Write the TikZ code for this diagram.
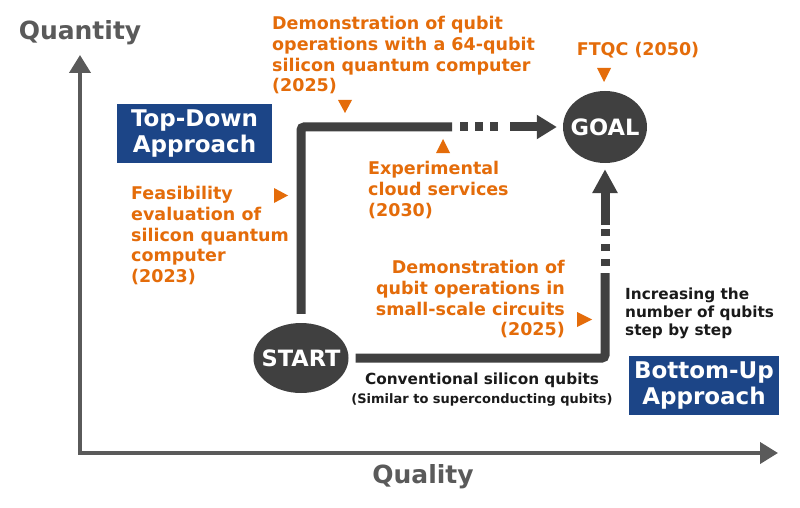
\documentclass[tikz,border=0pt]{standalone}
\usepackage{fontspec}
\setmainfont{DejaVu Sans}
\usetikzlibrary{arrows.meta,shapes.geometric}
\definecolor{orng}{HTML}{E46C0A}
\definecolor{dark}{HTML}{404040}
\definecolor{axisgray}{HTML}{5A5A5A}
\definecolor{boxblue}{HTML}{1C4587}
\definecolor{txtblack}{HTML}{1A1A1A}
\tikzset{
  axisline/.style={draw=axisgray, line width=4pt},
  road/.style={draw=dark, line width=9pt},
  dashroad/.style={road, dash pattern=on 7.5pt off 7.5pt},
  oval/.style={ellipse, fill=dark, inner sep=0pt},
  ovaltext/.style={text=white, inner sep=0pt, font=\bfseries\fontsize{22.5}{26}\selectfont},
  approach/.style={fill=boxblue, text=white, align=center, inner sep=0pt, minimum height=59pt, font=\bfseries\fontsize{23}{26.5}\selectfont},
  orangetxt/.style={text=orng, inner sep=0pt, font=\bfseries\fontsize{17.5}{20.6}\selectfont},
  blacktxt/.style={text=txtblack, inner sep=0pt, font=\bfseries\fontsize{15.3}{18}\selectfont},
  axislabel/.style={text=axisgray, inner sep=0pt, font=\bfseries\fontsize{25}{30}\selectfont},
  marker/.style={fill=orng}
}
\begin{document}
\begin{tikzpicture}[x=1pt,y=-1pt]
\useasboundingbox[fill=white] (0,0) rectangle (800,508);

% axes
\coordinate (origin) at (80,453);
\coordinate (ytip) at (80,55);
\coordinate (xtip) at (778,453);
\draw[axisline, {Triangle[length=18pt,width=21pt]}-{Triangle[length=18pt,width=21pt]}, line join=miter] (ytip) -- (origin) -- (xtip);
\node[axislabel] (quantity) at (80,33) {Quantity};
\node[axislabel] (quality) at (423,477) {Quality};

% start and goal
\node[oval, minimum width=95pt, minimum height=70pt] (start) at (301,358) {};
\node[ovaltext] (starttext) at (start.center) {START};
\node[oval, minimum width=84pt, minimum height=72pt] (goal) at (605,127) {};
\node[ovaltext] (goaltext) at (goal.center) {GOAL};

% top-down path
\coordinate (c1) at (301,127);
\coordinate (d1) at (452,127);
\coordinate (d1a) at (460,127);
\coordinate (d2a) at (503,127);
\coordinate (d2) at (510,127);
\draw[road, rounded corners=3pt, shorten <=9pt] (start.north) -- (c1) -- (d1);
\draw[dashroad] (d1a) -- (d2a);
\draw[road, -{Triangle[length=20pt,width=23pt]}, shorten >=6pt] (d2) -- (goal.west);

% bottom-up path
\coordinate (c2) at (605,358);
\coordinate (e1) at (605,273);
\coordinate (e1a) at (605,266);
\coordinate (e2a) at (605,228);
\coordinate (e2) at (605,225);
\draw[road, rounded corners=3pt, shorten <=7pt] (start.east) -- (c2) -- (e1);
\draw[dashroad] (e1a) -- (e2a);
\draw[road, -{Triangle[length=24pt,width=24pt]}, shorten >=6pt] (e2) -- (goal.south);

% boxes
\node[approach, minimum width=155pt] (topdown) at (194.5,133.5) {Top-Down\\Approach};
\node[approach, minimum width=150pt] (bottomup) at (704,385.5) {Bottom-Up\\Approach};

% orange markers
\fill[marker] (338,100) -- (352,100) -- (345,113) -- cycle;
\fill[marker] (436,153) -- (450,153) -- (443,139) -- cycle;
\fill[marker] (597,68) -- (611,68) -- (604,82) -- cycle;
\fill[marker] (274,188) -- (274,203) -- (288,195.5) -- cycle;
\fill[marker] (577,312) -- (577,327) -- (592,319.5) -- cycle;

% orange texts
\node[orangetxt, anchor=north west, align=left] (demo64) at (272,16.5) {Demonstration of qubit\\operations with a 64-qubit\\silicon quantum computer\\(2025)};
\node[orangetxt] (ftqc) at (638,50) {FTQC (2050)};
\node[orangetxt, anchor=north west, align=left] (cloud) at (368,161.5) {Experimental\\cloud services\\(2030)};
\node[orangetxt, anchor=north west, align=left] (feas) at (131,186.5) {Feasibility\\evaluation of\\silicon quantum\\computer\\(2023)};
\node[orangetxt, anchor=north east, align=right] (small) at (565,260.5) {Demonstration of\\qubit operations in\\small-scale circuits\\(2025)};

% black texts
\node[blacktxt, anchor=north west, align=left] (increase) at (625,287.5) {Increasing the\\number of qubits\\step by step};
\node[blacktxt, anchor=north] (conv) at (482,372.5) {Conventional silicon qubits};
\node[blacktxt, anchor=north, font=\bfseries\fontsize{13}{16}\selectfont] (similar) at (482,393) {(Similar to superconducting qubits)};
\end{tikzpicture}
\end{document}
